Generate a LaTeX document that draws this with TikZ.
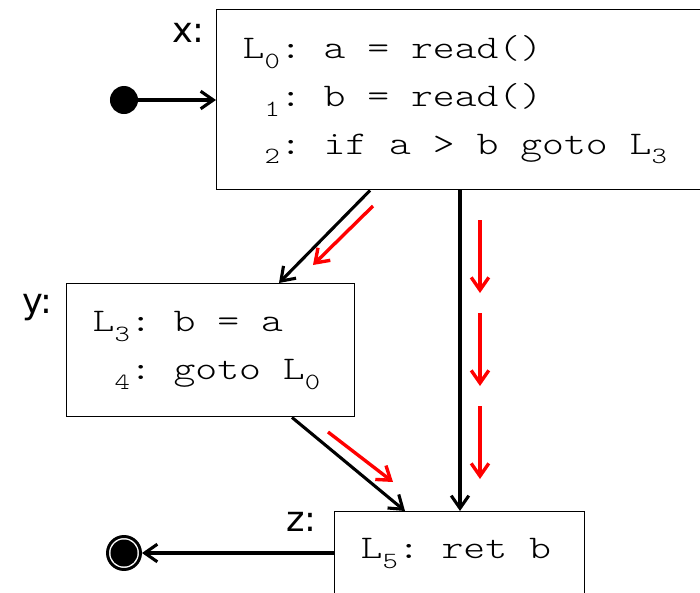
\documentclass[tikz,border=0pt]{standalone}
\usepackage{fontspec}
\usepackage{graphicx}
\setsansfont{DejaVu Sans}
\setmonofont{lmmonolt10-regular.otf}
\usetikzlibrary{arrows.meta, calc, positioning}
\protected\def\codefont{\fontsize{23.5}{34}\selectfont\ttfamily}
\newcommand{\codeline}[1]{\scalebox{1.26}[1]{#1}}
\newcommand{\ts}{\hspace*{0.525em}}
\newcommand{\idx}[1]{\raisebox{-7pt}{\fontsize{16.5}{16.5}\selectfont #1}}

\begin{document}
\begin{tikzpicture}[x=0.025cm, y=0.025cm]
        \tikzstyle{every node}+=[inner sep=0pt]
        \tikzstyle{block}=[draw, line width=1pt, anchor=north west, align=left, inner xsep=0.65cm, font=\codefont]
        \tikzstyle{tag}=[anchor=base east, font=\fontsize{25}{25}\selectfont\sffamily]
        \tikzstyle{flow}=[line width=2.2pt, -{Straight Barb[length=9pt, width=12.5pt]}]
        \tikzstyle{hint}=[red, line width=2.4pt, -{Straight Barb[length=9pt, width=12.5pt]}]
        \useasboundingbox (0,0) rectangle (700,-593);
        \node [block, minimum width=12.6cm, minimum height=4.5cm, text width=11.3cm] (x) at (216,-9) {\codeline{L\idx{0}:\ts a\ts=\ts read()}\\ \codeline{\phantom{L}\idx{1}:\ts b\ts=\ts read()}\\ \codeline{\phantom{L}\idx{2}:\ts if\ts a\ts>\ts b\ts goto\ts L\idx{3}}};
        \node [block, minimum width=7.2cm, minimum height=3.325cm, text width=5.9cm] (y) at (66,-283) {\codeline{L\idx{3}:\ts b\ts=\ts a}\\ \codeline{\phantom{L}\idx{4}:\ts goto\ts L\idx{0}}};
        \node [block, minimum width=6.25cm, text width=4.95cm, inner ysep=0.675cm, text depth=1.5cm] (z) at (334,-511) {\codeline{L\idx{5}:\ts ret\ts b}};
        \node [tag] (xlab) at (205,-42) {x:};
        \node [tag] (ylab) at (53,-313) {y:};
        \node [tag] (zlab) at (317,-531) {z:};
        \node [circle, fill, minimum size=0.7cm] (start) at (124,-100) {};
        \node [circle, draw, line width=2.1pt, minimum size=0.825cm] (stop) at (124,-553) {};
        \node [circle, fill, minimum size=0.675cm] (stopdot) at (stop) {};
        % control flow
        \draw [flow] (start) -- (start -| x.west);
        \draw [flow] ($(x.south west)+(154,0)$) -- ($(y.north west)+(213,0)$);
        \draw [flow] ($(x.south west)+(244,0)$) -- ($(z.north west)+(126,0)$);
        \draw [flow] ($(y.south west)+(226,0)$) -- ($(z.north west)+(71,0)$);
        \draw [flow] (stop -| z.west) -- (stop);
        % red hints
        \draw [hint] (373,-206) -- (313,-265);
        \draw [hint] (328,-432) -- (393,-482);
        \foreach \y in {220,313,406}
                \draw [hint] (480,-\y) -- ++(0,-73);
\end{tikzpicture}
\end{document}
